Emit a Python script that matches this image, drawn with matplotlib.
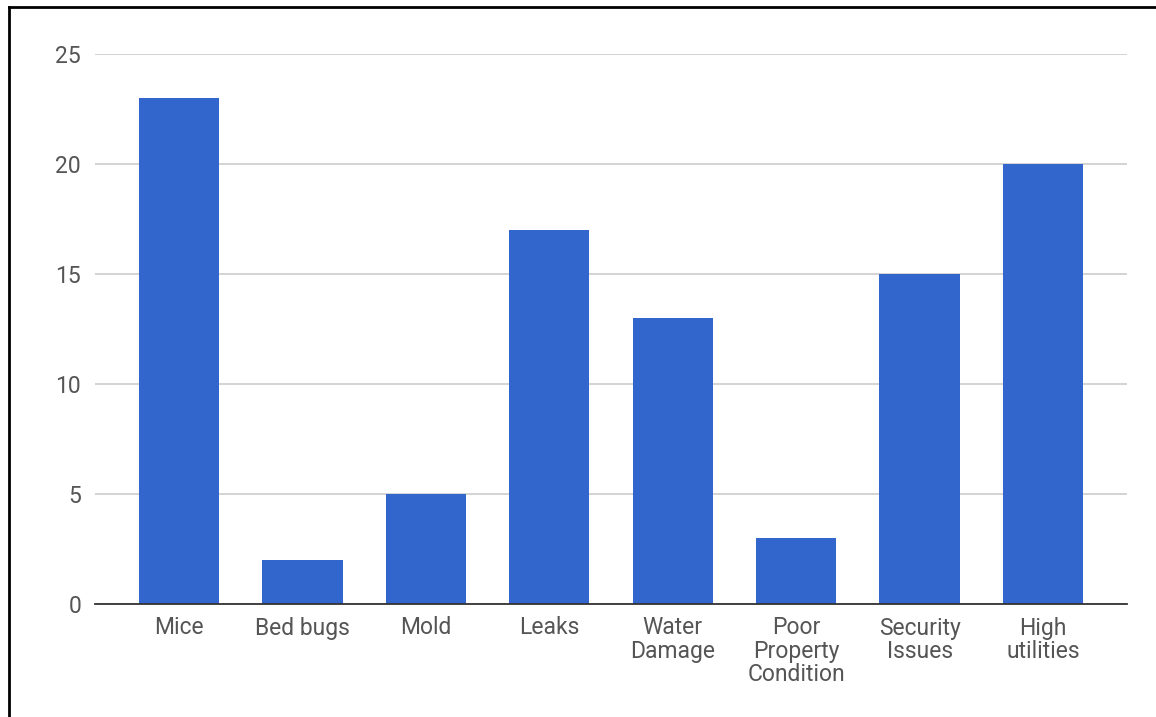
import matplotlib.pyplot as plt
from matplotlib.lines import Line2D

# issue counts reported by tenants
categories = ["Mice", "Bed bugs", "Mold", "Leaks", "Water\nDamage",
              "Poor\nProperty\nCondition", "Security\nIssues", "High\nutilities"]
counts = [23, 2, 5, 17, 13, 3, 15, 20]
yticks = [0, 5, 10, 15, 20, 25]

plt.rcParams['font.family'] = ['Roboto', 'DejaVu Sans']

fig = plt.figure(figsize=(11.56, 7.17), dpi=100)
ax = fig.add_axes([95 / 1156, 1 - 604 / 717, 1032 / 1156, 550 / 717])

x = list(range(len(categories)))
ax.bar(x, counts, width=0.65, color="#3366cc", zorder=3)

ax.set_xlim(-0.68, len(categories) - 1 + 0.68)
ax.set_ylim(0, 25)
ax.set_yticks(yticks)
ax.set_xticks(x)
ax.set_xticklabels(categories, linespacing=1.02)
ax.tick_params(axis='both', length=0, labelsize=16.5, labelcolor="#555555")
ax.tick_params(axis='x', pad=9)
ax.tick_params(axis='y', pad=10)

ax.grid(axis='y', color="#cccccc", linewidth=1.2, zorder=0)
for side in ['top', 'right', 'left']:
    ax.spines[side].set_visible(False)
ax.spines['bottom'].set_color("#333333")
ax.spines['bottom'].set_linewidth(1.3)
ax.spines['bottom'].set_zorder(4)

# frame lines along top and left edge
fig.add_artist(Line2D([8.5 / 1156, 1], [1 - 7 / 717, 1 - 7 / 717],
                      color="black", linewidth=2, transform=fig.transFigure))
fig.add_artist(Line2D([8.5 / 1156, 8.5 / 1156], [0, 1 - 7 / 717],
                      color="black", linewidth=2, transform=fig.transFigure))

fig.savefig("out.png", dpi=100)
